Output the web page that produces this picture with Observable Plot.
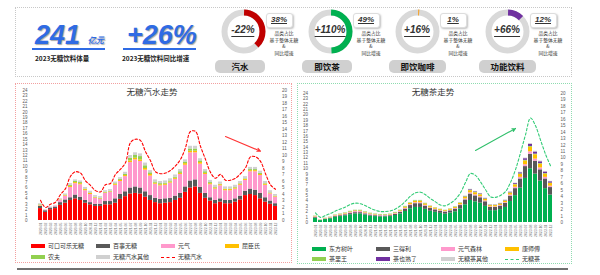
<!DOCTYPE html>
<html><head><meta charset="utf-8">
<script src="https://cdn.jsdelivr.net/npm/d3@7"></script>
<script src="https://cdn.jsdelivr.net/npm/@observablehq/plot@0.6"></script>
<style>
body{margin:0;background:#fff;font-family:"Noto Sans CJK SC","Noto Sans",sans-serif;}
#root{position:relative;width:600px;height:275px;overflow:hidden;background:#fff;}
.abs{position:absolute;white-space:nowrap;}
.kpi{font-family:"Liberation Sans",Arial,sans-serif;font-style:italic;font-weight:bold;color:#2f6be4;text-shadow:1px 1px 1px rgba(0,0,0,0.35);line-height:1;}
.kpil{font-weight:bold;font-size:6.5px;color:#222;line-height:1;}
.ctr{font-family:"Liberation Sans",Arial,sans-serif;font-style:italic;font-weight:bold;color:#333;font-size:10px;line-height:1;transform:translateX(-50%);border-bottom:1px solid #333;padding-bottom:1px;}
.box{background:#fff;border:1px solid #ddd;border-radius:3px;box-shadow:1px 1px 2px rgba(0,0,0,0.25);}
.pct{font-family:"Liberation Sans",Arial,sans-serif;font-style:italic;font-weight:bold;color:#333;font-size:8px;text-decoration:underline;text-align:center;line-height:13px;}
.note{font-size:4.8px;color:#333;line-height:6.6px;text-align:center;transform:translateX(-50%);}
.pill{background:#d0d0d0;border-radius:5px;font-weight:bold;font-size:8.5px;color:#111;text-align:center;line-height:13px;}
.ttl{font-size:8.5px;color:#333;transform:translate(-50%,-50%);line-height:1;}
.leg{font-size:6px;color:#333;line-height:1;transform:translateY(-50%);display:flex;align-items:center;}
.sw{display:inline-block;width:14px;height:3.5px;margin-right:3px;}
</style></head><body><div id="root"></div><script>
// ---------- data ----------
const months = ["2020-01","2020-02","2020-03","2020-04","2020-05","2020-06","2020-07","2020-08","2020-09","2020-10","2020-11","2020-12",
"2021-01","2021-02","2021-03","2021-04","2021-05","2021-06","2021-07","2021-08","2021-09","2021-10","2021-11","2021-12",
"2022-01","2022-02","2022-03","2022-04","2022-05","2022-06","2022-07","2022-08","2022-09","2022-10","2022-11","2022-12",
"2023-01","2023-02","2023-03","2023-04","2023-05","2023-06","2023-07","2023-08","2023-09","2023-10","2023-11","2023-12"];
const leftTicks = [0,1,2,3,4,5,6,7,8,9,10,11,12,13,14,15,16,17,18,19,20,21,22,23,24];
const rightTicks = [0,1,2,3,4,5,6,7,8,9,10,11,12,13,14,15,16,17,18,19,20];

// 无糖汽水 (stack order bottom → top)
const sodaCola   = [2.2,1.5,2.0,2.2,2.8,3.2,3.7,4.0,3.7,3.2,2.9,2.6,2.6,2.9,2.9,3.2,3.9,4.4,4.9,5.0,4.9,4.3,3.7,3.3,3.1,3.2,3.3,3.7,4.1,5.2,6.0,6.2,5.0,4.1,3.6,3.1,3.4,3.1,3.1,3.4,3.8,4.6,4.8,4.6,4.0,3.4,3.0,2.6];
const sodaPepsi  = [0.4,0.3,0.3,0.3,0.5,0.6,0.5,0.7,0.6,0.5,0.4,0.4,0.4,0.6,0.6,0.8,0.9,0.9,1.1,1.2,1.1,1.0,0.9,0.8,0.8,0.8,0.8,0.8,0.9,1.0,1.3,1.3,1.1,0.9,0.6,0.6,0.6,0.6,0.6,0.6,0.7,0.8,1.0,1.0,1.0,0.8,0.6,0.5];
const sodaGenki  = [0.1,0.1,0.1,0.2,0.4,0.7,1.9,2.1,2.3,1.8,1.5,1.1,0.9,1.5,1.7,2.5,2.4,2.8,4.7,5.0,4.9,4.0,3.6,2.6,2.5,2.5,2.8,3.1,3.5,4.0,5.2,5.0,4.3,3.5,2.4,2.1,2.4,1.8,1.8,1.8,2.0,2.0,3.2,3.4,3.3,2.3,1.3,1.2];
const sodaWatsons= [0.1,0.0,0.0,0.0,0.1,0.1,0.2,0.2,0.2,0.2,0.2,0.1,0.1,0.1,0.1,0.2,0.2,0.2,0.3,0.3,0.3,0.3,0.3,0.2,0.2,0.2,0.2,0.2,0.2,0.3,0.3,0.3,0.3,0.2,0.2,0.2,0.2,0.2,0.2,0.2,0.2,0.2,0.2,0.2,0.2,0.2,0.1,0.1];
const sodaNongfu = [0.1,0.0,0.0,0.0,0.0,0.1,0.2,0.2,0.2,0.1,0.1,0.1,0.1,0.1,0.1,0.1,0.2,0.2,0.5,0.5,0.6,0.5,0.3,0.2,0.2,0.2,0.2,0.2,0.3,0.3,0.4,0.4,0.3,0.3,0.2,0.1,0.1,0.1,0.1,0.1,0.1,0.1,0.2,0.2,0.2,0.1,0.1,0.1];
const sodaOther  = [0.2,0.1,0.1,0.1,0.2,0.2,0.3,0.3,0.3,0.3,0.3,0.3,0.3,0.3,0.3,0.3,0.3,0.4,0.5,0.5,0.5,0.5,0.4,0.4,0.4,0.4,0.4,0.4,0.4,0.4,0.5,0.5,0.4,0.4,0.4,0.4,0.4,0.4,0.4,0.4,0.4,0.4,0.4,0.4,0.4,0.4,0.4,0.3];
const sodaLine   = [3.1,2.0,2.5,2.8,4.0,4.9,6.8,7.5,7.3,6.1,5.4,4.6,4.4,5.5,5.7,7.1,7.9,8.9,12.0,12.5,12.3,10.6,9.2,7.5,7.2,7.3,7.7,8.4,9.4,11.2,13.7,13.7,11.4,9.4,7.4,6.5,7.1,6.2,6.2,6.5,7.2,8.1,9.8,9.8,9.1,7.2,5.5,4.8];

// 无糖茶
const teaDongfang= [0.8,0.35,0.55,0.7,1.0,1.1,1.25,1.45,1.6,1.6,1.4,1.2,1.1,1.05,1.05,1.1,1.3,1.6,2.05,2.55,2.8,2.8,2.45,2.1,1.9,1.7,1.55,1.75,2.0,2.5,3.3,4.1,3.85,3.6,3.0,2.2,2.2,2.4,2.8,3.9,5.0,6.4,8.2,10.0,9.0,7.7,6.3,5.1];
const teaSuntory = [0.12,0.05,0.08,0.1,0.14,0.16,0.18,0.21,0.23,0.23,0.2,0.18,0.16,0.15,0.15,0.16,0.2,0.3,0.45,0.6,0.7,0.7,0.6,0.5,0.45,0.4,0.38,0.42,0.5,0.65,0.9,1.2,1.1,1.0,0.85,0.6,0.6,0.65,0.75,1.0,1.3,1.7,2.2,2.7,2.4,2.1,1.8,1.4];
const teaGenki   = [0.12,0.04,0.07,0.08,0.11,0.13,0.15,0.18,0.2,0.2,0.17,0.15,0.13,0.12,0.12,0.12,0.14,0.14,0.15,0.16,0.17,0.17,0.15,0.13,0.12,0.1,0.1,0.1,0.12,0.14,0.18,0.22,0.2,0.2,0.17,0.12,0.12,0.13,0.14,0.2,0.25,0.3,0.35,0.45,0.4,0.35,0.3,0.25];
const teaKang    = [0.06,0.02,0.04,0.05,0.07,0.08,0.09,0.1,0.11,0.11,0.1,0.09,0.08,0.07,0.07,0.08,0.1,0.14,0.2,0.25,0.28,0.28,0.25,0.22,0.2,0.18,0.16,0.18,0.2,0.26,0.32,0.4,0.38,0.35,0.3,0.22,0.22,0.24,0.28,0.35,0.45,0.55,0.7,0.85,0.8,0.7,0.6,0.5];
const teaChali   = [0.08,0.03,0.05,0.06,0.07,0.1,0.1,0.13,0.13,0.13,0.11,0.1,0.1,0.09,0.09,0.1,0.13,0.1,0.12,0.11,0.12,0.12,0.1,0.1,0.08,0.08,0.07,0.08,0.1,0.1,0.1,0.1,0.1,0.1,0.08,0.06,0.06,0.06,0.07,0.08,0.1,0.1,0.12,0.15,0.12,0.1,0.1,0.08];
const teaChaye   = [0,0,0,0,0,0,0,0,0,0,0,0,0,0,0,0,0,0,0,0,0,0,0,0,0,0,0,0,0,0,0.05,0.1,0.1,0.1,0.08,0.05,0.05,0.06,0.08,0.1,0.15,0.2,0.3,0.4,0.4,0.35,0.3,0.25];
const teaOther   = [0.02,0.01,0.01,0.02,0.02,0.03,0.03,0.03,0.03,0.03,0.03,0.03,0.03,0.02,0.02,0.03,0.03,0.04,0.05,0.05,0.05,0.05,0.05,0.05,0.04,0.04,0.04,0.04,0.05,0.05,0.05,0.06,0.06,0.06,0.05,0.05,0.05,0.05,0.05,0.06,0.08,0.1,0.12,0.15,0.13,0.12,0.1,0.08];
const teaLine    = [1.5,0.8,1.1,1.4,1.8,2.1,2.4,2.8,3.0,2.9,2.6,2.2,1.9,1.7,1.7,1.8,2.1,2.6,3.3,4.1,4.6,4.7,4.3,3.7,3.2,2.7,2.6,3.0,3.6,4.6,6.2,7.6,7.3,6.3,5.1,4.0,3.9,4.2,4.8,6.2,8.2,10.8,13.6,16.2,15.0,12.8,10.6,8.8];

// 顶部指标
const kpiValues = ["241","+26%"];
const kpiUnits = ["亿元",""];
const kpiLabels = ["2023无糖饮料体量","2023无糖饮料同比增速"];
const catNames = ["汽水","即饮茶","即饮咖啡","功能饮料"];
const catShare = [38,49,1,12];          // 品类占比 %
const catGrowth = ["-22%","+110%","+16%","+66%"];
const catColors = ["#c00000","#00b050","#f4a532","#7030a0"];

const sodaSeries = ["可口可乐无糖","百事无糖","元气","屈臣氏","农夫","无糖汽水其他"];
const sodaColors = ["#ff0000","#595959","#ff99cc","#ffc000","#92d050","#d0d0d0"];
const teaSeries = ["东方树叶","三得利","元气森林","康师傅","茶里王","茶也熟了","无糖茶其他"];
const teaColors = ["#00b050","#595959","#ff99cc","#ffc000","#92d050","#7030a0","#d0d0d0"];
const sodaArrow = [{m1:"2023-02",v1:15.5,m2:"2023-09",v2:12.8}];
const teaArrow  = [{m1:"2022-09",v1:13.4,m2:"2023-05",v2:17.5}];

// ---------- layout ----------
const root = document.getElementById("root");
function el(cls, css, html){const d=document.createElement("div");d.className="abs "+cls;Object.assign(d.style,css);if(html!==undefined)d.innerHTML=html;root.appendChild(d);return d;}

// top box
el("", {left:"15px",top:"7px",width:"557px",height:"70px",border:"1px dotted #c8c8c8",boxSizing:"border-box"});
// KPIs
const kpiX=[35,127];
kpiValues.forEach((v,i)=>{
  const x=kpiX[i];
  el("kpi",{left:x+"px",top:"22px",fontSize:"27px"},v);
  if(kpiUnits[i]) el("kpi",{left:(x+53)+"px",top:"37px",fontSize:"8px"},kpiUnits[i]);
  el("",{left:(x-3+(i?-1:0))+"px",top:"48px",width:"73px",height:"1.5px",background:"#2f6be4"});
  el("kpil",{left:(x-(i?5:0))+"px",top:"55px"},kpiLabels[i]);
});

// donuts
const donutX=[243,330,417,507];
catNames.forEach((name,i)=>{
  const c=donutX[i], r=19, C=2*Math.PI*r, f=catShare[i]/100;
  const pt=[{cx:0,cy:0,share:catShare[i]}];
  const svg = Plot.plot({
    width:50,height:50,margin:0,
    x:{domain:[-1,1],axis:null},y:{domain:[-1,1],axis:null},
    style:{background:"transparent"},
    marks:[
      Plot.dot(pt,{x:"cx",y:"cy",r:r,stroke:"#d9d9d9",strokeWidth:6,fill:"none"}),
      Plot.dot(pt,{x:"cx",y:"cy",r:r,stroke:catColors[i],strokeWidth:6,fill:"none",
        strokeDasharray:`${f*C} ${C-f*C}`,strokeDashoffset:C/4})
    ]
  });
  const w=el("",{left:(c-25)+"px",top:"6px",width:"50px",height:"50px"});
  w.appendChild(svg);
  el("ctr",{left:c+"px",top:"25px"},catGrowth[i]);
  el("box",{left:(c+23)+"px",top:"13px",width:"25px",height:"13px"});
  el("pct",{left:(c+23)+"px",top:"13px",width:"26px"},catShare[i]+"%");
  el("note",{left:(c+41)+"px",top:"30px"},"品类占比<br>基于整体无糖<br>&amp;<br>同比增速");
  const pw = name.length>3?57:50;
  el("pill",{left:(c-28)+"px",top:"60px",width:pw+"px",height:"13px"},name);
});

// panels
el("",{left:"15px",top:"83px",width:"277px",height:"180px",border:"1px dotted #f2a0a0",boxSizing:"border-box"});
el("",{left:"297px",top:"83px",width:"275px",height:"181px",border:"1px dotted #8fdcb0",boxSizing:"border-box"});
el("",{left:"17px",top:"268px",width:"551px",height:"2px",background:"#707070"});

function chart(opts){
  const rows=[];
  opts.series.forEach((s,k)=>opts.values[k].forEach((v,j)=>rows.push({month:months[j],series:s,value:v})));
  const lineRows = months.map((m,j)=>({month:m,value:opts.line[j]}));
  return Plot.plot({
    width:opts.width,height:opts.height,
    marginTop:opts.mt,marginBottom:opts.mb,marginLeft:opts.ml,marginRight:opts.mr,
    style:{fontFamily:"Liberation Sans, Arial, sans-serif",fontSize:"4.5px",color:"#595959",background:"transparent"},
    x:{type:"band",domain:months,paddingInner:0.3,paddingOuter:0.15},
    y:{domain:[0,24]},
    color:{domain:opts.series,range:opts.colors},
    marks:[
      Plot.barY(rows,{x:"month",y:"value",fill:"series"}),
      Plot.line(lineRows,{x:"month",y:d=>d.value*24/20,stroke:opts.lineColor,strokeWidth:1.1,strokeDasharray:"2.5,2",curve:"catmull-rom"}),
      Plot.arrow(opts.arrow,{x1:"m1",y1:"v1",x2:"m2",y2:"v2",stroke:opts.arrowColor,strokeWidth:1.1,headLength:5,headAngle:50}),
      Plot.axisY(leftTicks,{anchor:"left",tickSize:0,tickPadding:opts.lp,fontSize:4.5}),
      Plot.axisY(rightTicks.map(v=>v*24/20),{anchor:"right",tickSize:0,tickPadding:opts.rp,fontSize:4.5,tickFormat:v=>Math.round(v*20/24)}),
      Plot.axisX({tickRotate:-90,tickSize:0,tickPadding:2,fontSize:3.4,label:null,fill:"#777"})
    ]
  });
}

const s1 = chart({width:280,height:157,mt:6,mb:21,ml:23,mr:17,lp:10,rp:4.5,
  series:sodaSeries,colors:sodaColors,values:[sodaCola,sodaPepsi,sodaGenki,sodaWatsons,sodaNongfu,sodaOther],
  line:sodaLine,lineColor:"#ff0000",arrow:sodaArrow,arrowColor:"#ff3333"});
el("",{left:"14px",top:"84px"}).appendChild(s1);
const s2 = chart({width:275,height:160,mt:9,mb:22,ml:15.5,mr:19.5,lp:5,rp:7.5,
  series:teaSeries,colors:teaColors,values:[teaDongfang,teaSuntory,teaGenki,teaKang,teaChali,teaChaye,teaOther],
  line:teaLine,lineColor:"#33cc77",arrow:teaArrow,arrowColor:"#2fbf6a"});
el("",{left:"297px",top:"84px"}).appendChild(s2);

el("ttl",{left:"152px",top:"91px"},"无糖汽水走势");
el("ttl",{left:"433px",top:"91px"},"无糖茶走势");

// legends
function legend(series,colors,xs,ys,lineName,lineColor){
  const items=series.map((s,i)=>({s,c:colors[i],dash:false}));
  items.push({s:lineName,c:lineColor,dash:true});
  items.forEach((it,i)=>{
    const x=xs[i%4], y=ys[Math.floor(i/4)];
    const sw = it.dash
      ? `<span class="sw" style="height:0;border-top:1.2px dashed ${it.c};"></span>`
      : `<span class="sw" style="background:${it.c}"></span>`;
    el("leg",{left:x+"px",top:y+"px"},sw+it.s);
  });
}
legend(sodaSeries,sodaColors,[31,96,161,225],[246,257],"无糖汽水","#ff0000");
legend(teaSeries,teaColors,[312,376,441,505],[249,259],"无糖茶","#33cc77");
</script></body></html>
